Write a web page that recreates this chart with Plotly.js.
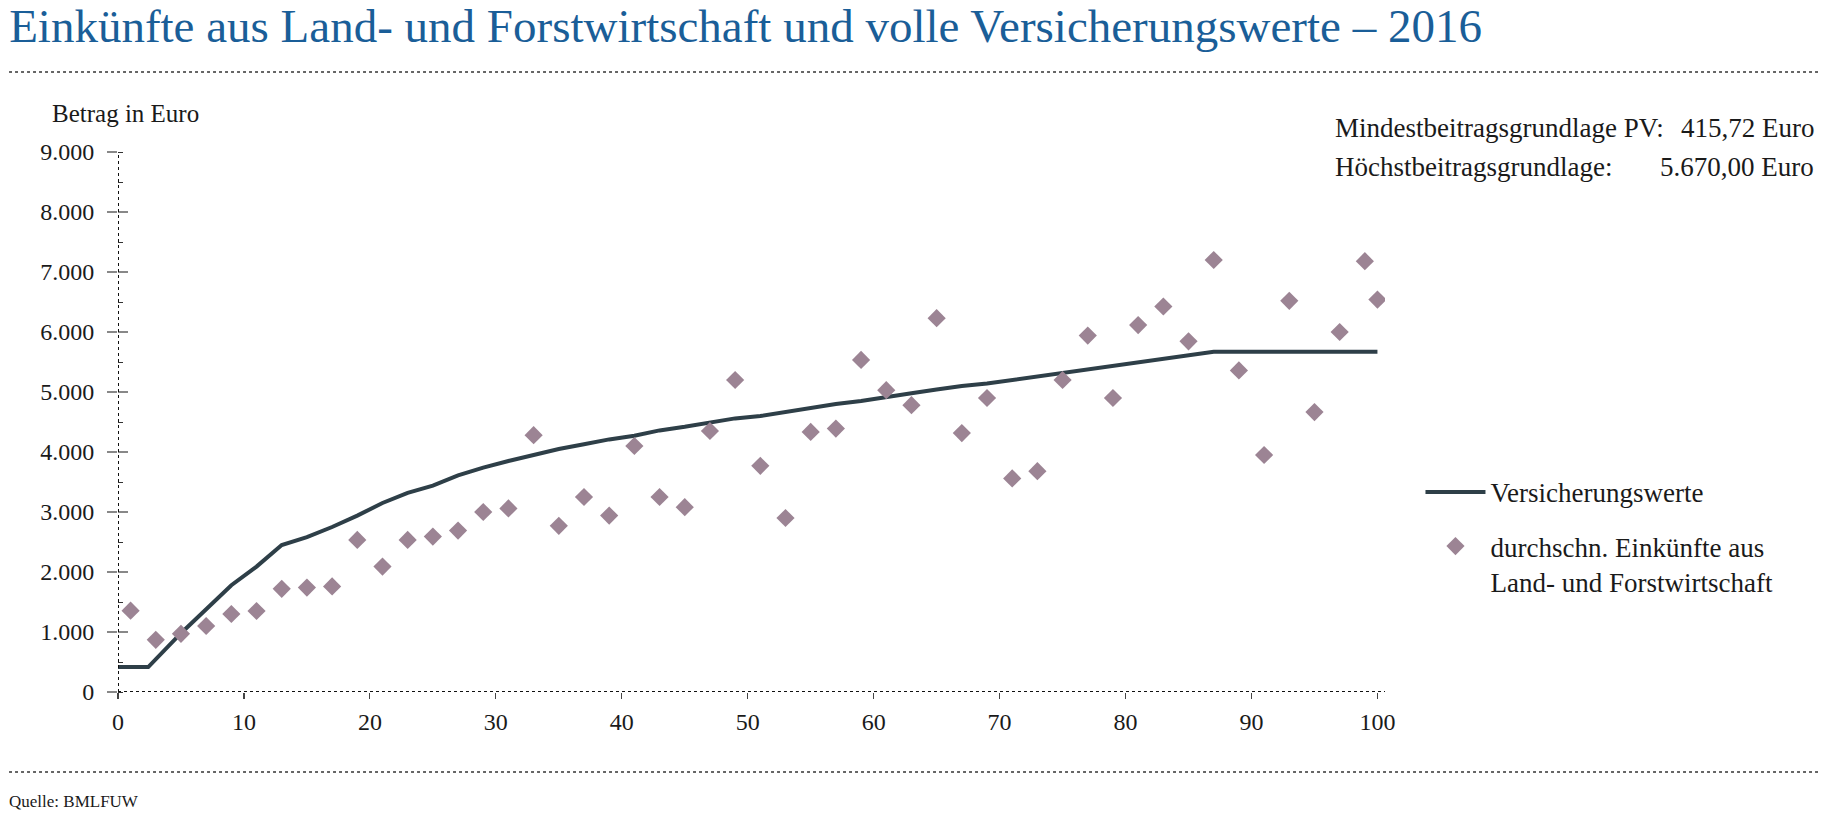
<!DOCTYPE html>
<html>
<head>
<meta charset="utf-8">
<script src="https://cdn.plot.ly/plotly-3.0.1.min.js"></script>
<style>
  html, body { margin: 0; padding: 0; background: #fff; }
  #chart { width: 1825px; height: 813px; }
</style>
</head>
<body>
<div id="chart"></div>
<script>
// Versicherungswerte (Linie)
const lineX = [0, 2.4, 5, 7, 9, 11, 13, 15, 17, 19, 21, 23, 25, 27, 29, 31, 33, 35, 37, 39,
  41, 43, 45, 47, 49, 51, 53, 55, 57, 59, 61, 63, 65, 67, 69, 71, 73, 75, 77, 79,
  81, 83, 85, 87, 100];
const lineY = [415.72, 415.72, 980, 1390, 1780, 2090, 2450, 2580, 2750, 2940, 3150, 3320, 3440, 3610, 3740, 3850, 3950, 4050, 4130, 4210,
  4270, 4360, 4420, 4490, 4560, 4600, 4670, 4740, 4800, 4850, 4920, 4980, 5040, 5100, 5140, 5200, 5260, 5320, 5380, 5430,
  5500, 5560, 5620, 5670, 5670];

// durchschn. Einkünfte aus Land- und Forstwirtschaft (Punkte)
const pointX = [1, 3, 5, 7, 9, 11, 13, 15, 17, 19, 21, 23, 25, 27, 29, 31, 33, 35, 37, 39,
  41, 43, 45, 47, 49, 51, 53, 55, 57, 59, 61, 63, 65, 67, 69, 71, 73, 75, 77, 79,
  81, 83, 85, 87, 89, 91, 93, 95, 97, 99, 100];
const pointY = [1355, 870, 970, 1100, 1300, 1350, 1720, 1740, 1760, 2535, 2090, 2535, 2590, 2690, 3000, 3060, 4280, 2770, 3250, 2940,
  4100, 3250, 3080, 4350, 5200, 3770, 2900, 4335, 4390, 5535, 5030, 4780, 6230, 4315, 4900, 3560, 3680, 5200, 5940, 4900,
  6115, 6425, 5845, 7200, 5360, 3950, 6520, 4665, 6000, 7180, 6540];

const xTicks = [0, 10, 20, 30, 40, 50, 60, 70, 80, 90, 100];
const yTicks = [0, 1000, 2000, 3000, 4000, 5000, 6000, 7000, 8000, 9000];

const serif = 'Liberation Serif, Times New Roman, serif';
const ink = '#1a1a1a';

const traces = [
  {
    x: lineX, y: lineY,
    type: 'scatter', mode: 'lines',
    name: 'Versicherungswerte',
    legendgroup: 'a',
    line: { color: '#2e3f48', width: 4 },
    hoverinfo: 'skip'
  },
  {
    x: pointX, y: pointY,
    type: 'scatter', mode: 'markers',
    name: 'durchschn. Einkünfte aus<br>Land- und Forstwirtschaft',
    legendgroup: 'b',
    yaxis: 'y2',
    marker: { symbol: 'diamond', size: 14, color: '#9c8494' },
    hoverinfo: 'skip'
  }
];

const layout = {
  width: 1825,
  height: 813,
  margin: { l: 118, r: 440, t: 152, b: 121 },
  paper_bgcolor: '#fff',
  plot_bgcolor: '#fff',
  separators: ',.',
  font: { family: serif, size: 24, color: ink },
  title: {
    text: 'Einkünfte aus Land- und Forstwirtschaft und volle Versicherungswerte – 2016',
    font: { family: serif, size: 47, color: '#1a5e98' },
    xref: 'container', x: 0.005, xanchor: 'left',
    yref: 'container', y: 0.968, yanchor: 'middle'
  },
  xaxis: {
    range: [0, 100.6],
    tickvals: xTicks,
    ticks: 'outside', ticklen: 6, tickwidth: 1.2, tickcolor: '#444',
    showline: false, showgrid: false, zeroline: false,
    tickfont: { family: serif, size: 24, color: ink },
    ticklabelstandoff: 2,
    fixedrange: true
  },
  xaxis2: {
    overlaying: 'x', anchor: 'y',
    range: [0, 100.6],
    tickvals: xTicks,
    ticks: 'inside', ticklen: 6, tickwidth: 1.2, tickcolor: '#444',
    showticklabels: false, showline: false, showgrid: false, zeroline: false,
    fixedrange: true
  },
  yaxis: {
    range: [0, 9000],
    tickvals: yTicks,
    tickformat: ',d',
    ticks: 'outside', ticklen: 10, tickwidth: 1.5, tickcolor: '#888',
    minor: { dtick: 500, ticks: 'inside', ticklen: 5, tickwidth: 1, tickcolor: '#333' },
    showline: false, showgrid: false, zeroline: false,
    tickfont: { family: serif, size: 24, color: ink },
    ticklabelstandoff: 8,
    fixedrange: true
  },
  yaxis2: {
    overlaying: 'y', anchor: 'x',
    range: [0, 9000],
    tickvals: yTicks,
    ticks: 'inside', ticklen: 10, tickwidth: 1.5, tickcolor: '#888',
    showticklabels: false, showline: false, showgrid: false, zeroline: false,
    fixedrange: true
  },
  showlegend: true,
  legend: {
    x: 1.028, xanchor: 'left',
    y: 0.415, yanchor: 'top',
    valign: 'top',
    itemwidth: 60,
    tracegroupgap: 16,
    font: { family: serif, size: 27, color: ink },
    bgcolor: 'rgba(0,0,0,0)'
  },
  shapes: [
    // gepunktete Achsenlinien
    { type: 'line', xref: 'x', yref: 'y', x0: 0, x1: 0, y0: 0, y1: 9000,
      line: { color: '#111', width: 2, dash: 'dot' } },
    { type: 'line', xref: 'x', yref: 'y', x0: 0, x1: 100.6, y0: 0, y1: 0,
      line: { color: '#111', width: 2, dash: 'dot' } },
    // Trennlinien oben und unten
    { type: 'line', xref: 'paper', yref: 'paper', x0: -0.086, x1: 1.343, y0: 1.148, y1: 1.148,
      line: { color: '#333', width: 1.5, dash: 'dot' } },
    { type: 'line', xref: 'paper', yref: 'paper', x0: -0.086, x1: 1.343, y0: -0.148, y1: -0.148,
      line: { color: '#333', width: 1.5, dash: 'dot' } }
  ],
  annotations: [
    { text: 'Betrag in Euro', xref: 'paper', yref: 'paper', x: -0.054, y: 1.072,
      xanchor: 'left', yanchor: 'middle', showarrow: false,
      font: { family: serif, size: 25, color: ink } },
    { text: 'Mindestbeitragsgrundlage PV:', xref: 'paper', yref: 'paper', x: 0.959, y: 1.045,
      xanchor: 'left', yanchor: 'middle', showarrow: false,
      font: { family: serif, size: 27, color: ink } },
    { text: '415,72 Euro', xref: 'paper', yref: 'paper', x: 1.340, y: 1.045,
      xanchor: 'right', yanchor: 'middle', showarrow: false,
      font: { family: serif, size: 27, color: ink } },
    { text: 'Höchstbeitragsgrundlage:', xref: 'paper', yref: 'paper', x: 0.959, y: 0.972,
      xanchor: 'left', yanchor: 'middle', showarrow: false,
      font: { family: serif, size: 27, color: ink } },
    { text: '5.670,00 Euro', xref: 'paper', yref: 'paper', x: 1.340, y: 0.972,
      xanchor: 'right', yanchor: 'middle', showarrow: false,
      font: { family: serif, size: 27, color: ink } },
    { text: 'Quelle: BMLFUW', xref: 'paper', yref: 'paper', x: -0.088, y: -0.202,
      xanchor: 'left', yanchor: 'middle', showarrow: false,
      font: { family: serif, size: 17, color: ink } }
  ]
};

const config = { displayModeBar: false, staticPlot: true };

Plotly.newPlot(document.getElementById('chart'), traces, layout, config);
</script>
</body>
</html>
